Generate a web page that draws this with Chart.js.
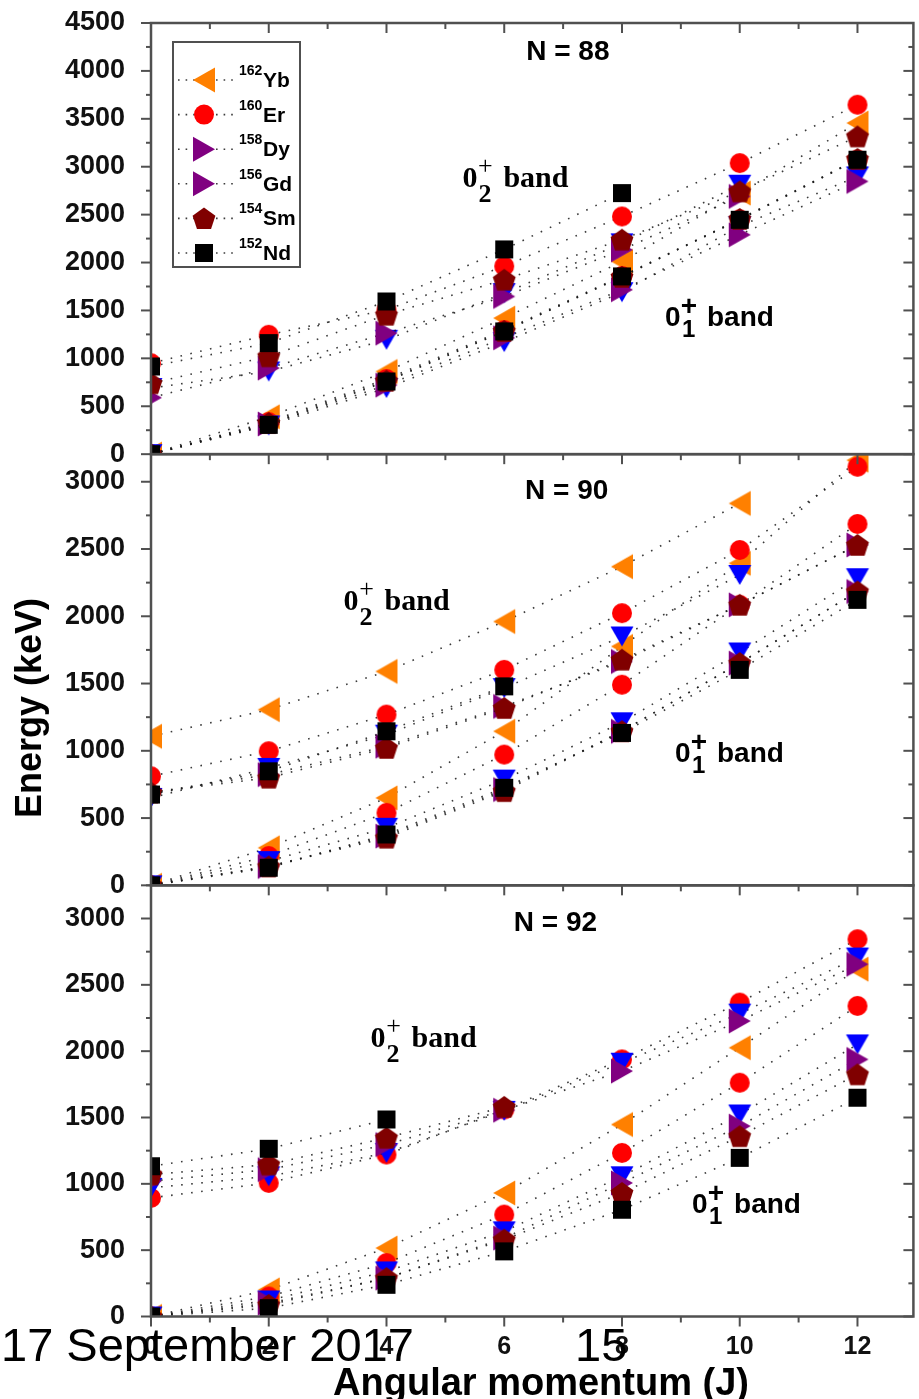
<!DOCTYPE html>
<html>
<head>
<meta charset="utf-8">
<title>Band energies of N = 88, 90, 92 isotones</title>
<script src="https://cdn.jsdelivr.net/npm/chart.js@4.4.1/dist/chart.umd.min.js"></script>
<style>
    html, body { margin: 0; padding: 0; background: #fff; overflow: hidden; }
    #bandChart { display: block; width: 926px; height: 1399px; }
</style>
</head>
<body>
<canvas id="bandChart" width="926" height="1399"></canvas>
<script>
const spins = [0, 2, 4, 6, 8, 10, 12];
const spinTicks = [0, 2, 4, 6, 8, 10, 12];
const massNumbers = ['162', '160', '158', '156', '154', '152'];
const elements = ['Yb', 'Er', 'Dy', 'Gd', 'Sm', 'Nd'];
const panelTitles = ['N = 88', 'N = 90', 'N = 92'];
const panelMax = [4500, 3205, 3250];
const energyTicksN88 = [0, 500, 1000, 1500, 2000, 2500, 3000, 3500, 4000, 4500];
const energyTicksN90 = [0, 500, 1000, 1500, 2000, 2500, 3000];
const energyTicksN92 = [0, 500, 1000, 1500, 2000, 2500, 3000];

// rows: Yb, Er, Dy, Gd, Sm, Nd ; columns: J = 0 ... 12 (keV)
const groundN88 = [
    [0, 390, 863, 1420, 2011, 2725, 3456],
    [0, 335, 785, 1295, 1860, 2450, 3075],
    [0, 300, 690, 1170, 1690, 2380, 2899],
    [0, 315, 720, 1215, 1716, 2290, 2847],
    [0, 325, 765, 1285, 1850, 2455, 3080],
    [0, 306, 759, 1281, 1855, 2446, 3073]
];
const excitedN88 = [
    [null, null, null, null, null, null, null],
    [950, 1246, 1507, 1962, 2481, 3038, 3647],
    [690, 863, 1194, 1681, 2200, 2812, null],
    [590, 898, 1263, 1646, 2133, 2690, null],
    [740, 1020, 1455, 1820, 2238, 2742, 3316],
    [915, 1159, 1594, 2137, 2725, null, null]
];
const groundN90 = [
    [0, 279, 650, 1145, 1776, 2394, 3160],
    [0, 218, 539, 972, 1491, 2085, 2686],
    [0, 180, 428, 786, 1212, 1731, 2283],
    [0, 140, 366, 712, 1145, 1652, 2184],
    [0, 140, 354, 700, 1145, 1652, 2184],
    [0, 131, 378, 725, 1133, 1602, 2122]
];
const excitedN90 = [
    [1108, 1306, 1590, 1961, 2369, 2839, null],
    [811, 997, 1269, 1602, 2023, 2493, 3111],
    [650, 873, 1120, 1466, 1850, 2307, null],
    [690, 823, 1034, 1330, 1664, 2085, 2530],
    [690, 800, 1021, 1318, 1677, 2085, 2530],
    [675, 848, 1145, 1479, null, null, null]
];
const groundN92 = [
    [0, 201, 516, 931, 1447, 2026, 2618],
    [0, 151, 403, 768, 1233, 1762, 2341],
    [0, 121, 340, 642, 1057, 1523, 2051],
    [0, 100, 289, 591, 1007, 1435, 1938],
    [0, 88, 289, 579, 931, 1359, 1825],
    [0, 63, 239, 491, 805, 1196, 1649]
];
const excitedN92 = [
    [null, null, null, null, null, null, null],
    [894, 1007, 1221, 1560, 1938, 2366, 2844],
    [970, 1057, 1233, 1550, 1913, 2283, 2706],
    [1020, 1107, 1296, 1555, 1850, 2227, 2655],
    [1070, 1145, 1347, 1580, null, null, null],
    [1133, 1264, 1485, null, null, null, null]
];

const SANS = '"Liberation Sans", Arial, sans-serif';
const SERIF = '"Liberation Serif", "Times New Roman", serif';

const panelAxes = ['y88', 'y90', 'y92'];
const panelTicks = [energyTicksN88, energyTicksN90, energyTicksN92];
const panelData = [
    [groundN88, excitedN88],
    [groundN90, excitedN90],
    [groundN92, excitedN92]
];

const markerShapes = ['left', 'circle', 'down', 'right', 'pentagon', 'square'];
const legendShapes = ['left', 'circle', 'right', 'right', 'pentagon', 'square'];
const markerColors = ['#ff8000', '#ff0000', '#0000ff', '#800080', '#800000', '#000000'];
const legendColors = ['#ff8000', '#ff0000', '#800080', '#800080', '#800000', '#000000'];
const drawOrder = [5, 4, 3, 2, 1, 0];

// label anchors in data units: [J, keV]
const titleAt = [[7.08, 4215], [7.06, 2944], [6.87, 2982]];
const excitedLabelAt = [[5.29, 2792], [3.27, 2046], [3.73, 2034]];
const groundLabelAt = [[8.73, 1338], [8.90, 919], [9.19, 778]];

function traceShape(ctx, shape, x, y) {
    switch (shape) {
        case 'circle':
            ctx.arc(x, y, 10, 0, Math.PI * 2);
            break;
        case 'square':
            ctx.rect(x - 9, y - 9, 18, 18);
            break;
        case 'left':
            ctx.moveTo(x - 11, y);
            ctx.lineTo(x + 11, y - 12.5);
            ctx.lineTo(x + 11, y + 12.5);
            ctx.closePath();
            break;
        case 'right':
            ctx.moveTo(x + 11, y);
            ctx.lineTo(x - 11, y - 12.5);
            ctx.lineTo(x - 11, y + 12.5);
            ctx.closePath();
            break;
        case 'down':
            ctx.moveTo(x - 11.5, y - 10);
            ctx.lineTo(x + 11.5, y - 10);
            ctx.lineTo(x, y + 10);
            ctx.closePath();
            break;
        case 'pentagon':
            for (let k = 0; k < 5; k++) {
                const a = -Math.PI / 2 + k * 2 * Math.PI / 5;
                const px = x + 12 * Math.cos(a);
                const py = y + 1 + 12 * Math.sin(a);
                if (k === 0) ctx.moveTo(px, py); else ctx.lineTo(px, py);
            }
            ctx.closePath();
            break;
    }
}

function makeMarker(shape, color) {
    const c = document.createElement('canvas');
    c.width = 28;
    c.height = 28;
    const ctx = c.getContext('2d');
    ctx.fillStyle = color;
    ctx.beginPath();
    traceShape(ctx, shape, 14, 14);
    ctx.fill();
    return c;
}

const markerImages = markerShapes.map((s, i) => makeMarker(s, markerColors[i]));

function buildDatasets() {
    const datasets = [];
    panelData.forEach((bands, p) => {
        bands.forEach(rows => {
            rows.forEach((values, i) => {
                const points = spins
                    .map((j, k) => ({ x: j, y: values[k] }))
                    .filter(pt => pt.y !== null);
                if (!points.length) return;
                datasets.push({
                    label: massNumbers[i] + elements[i],
                    data: points,
                    yAxisID: panelAxes[p],
                    order: drawOrder[i],
                    showLine: true,
                    fill: false,
                    borderColor: 'rgba(25, 25, 25, 0.85)',
                    borderWidth: 1.6,
                    borderDash: [1.6, 8.5],
                    pointStyle: markerImages[i],
                    pointRadius: 11,
                    pointHoverRadius: 11,
                    backgroundColor: markerColors[i]
                });
            });
        });
    });
    return datasets;
}

function noPadding(s) {
    s.paddingTop = 0;
    s.paddingBottom = 0;
    s.paddingLeft = 0;
    s.paddingRight = 0;
}

function yScale(p) {
    return {
        type: 'linear',
        position: 'left',
        stack: 'panels',
        stackWeight: 1,
        min: 0,
        max: panelMax[p],
        grid: { display: false },
        border: { display: false },
        ticks: {
            autoSkip: false,
            padding: 18,
            color: '#111',
            font: { family: SANS, weight: 'bold', size: 27 },
            callback: v => String(v)
        },
        afterBuildTicks: s => { s.ticks = panelTicks[p].map(v => ({ value: v })); },
        afterFit: s => { s.width = 151; noPadding(s); }
    };
}

function line(ctx, x1, y1, x2, y2) {
    ctx.beginPath();
    ctx.moveTo(x1, y1);
    ctx.lineTo(x2, y2);
    ctx.stroke();
}

function drawBandLabel(ctx, x, y, sub, serif) {
    ctx.textAlign = 'left';
    ctx.textBaseline = 'alphabetic';
    ctx.fillStyle = '#000';
    if (serif) {
        ctx.font = 'bold 30px ' + SERIF;
        ctx.fillText('0', x, y);
        ctx.fillText('band', x + 41, y);
        ctx.font = 'bold 26px ' + SERIF;
        ctx.fillText(sub, x + 16, y + 15);
        ctx.font = '26px ' + SERIF;
        ctx.textAlign = 'center';
        ctx.fillText('+', x + 23, y - 13);
    } else {
        ctx.font = 'bold 28px ' + SANS;
        ctx.fillText('0', x, y);
        ctx.fillText('band', x + 42, y);
        ctx.font = 'bold 24px ' + SANS;
        ctx.fillText(sub, x + 17, y + 11);
        ctx.font = 'bold 28px ' + SANS;
        ctx.textAlign = 'center';
        ctx.fillText('+', x + 24, y - 11);
    }
}

function drawLegend(ctx, left, top) {
    ctx.save();
    ctx.strokeStyle = '#505050';
    ctx.lineWidth = 2;
    ctx.strokeRect(left, top, 127, 225);
    for (let i = 0; i < elements.length; i++) {
        const cy = top + 38 + i * 34.6;
        ctx.strokeStyle = 'rgba(25, 25, 25, 0.85)';
        ctx.lineWidth = 1.6;
        ctx.setLineDash([1.6, 6]);
        line(ctx, left + 5, cy, left + 60, cy);
        ctx.setLineDash([]);
        ctx.fillStyle = legendColors[i];
        ctx.beginPath();
        traceShape(ctx, legendShapes[i], left + 31, cy);
        ctx.fill();
        ctx.fillStyle = '#000';
        ctx.textAlign = 'left';
        ctx.textBaseline = 'alphabetic';
        ctx.font = 'bold 14px ' + SANS;
        ctx.fillText(massNumbers[i], left + 66, cy - 5);
        ctx.font = 'bold 21px ' + SANS;
        ctx.fillText(elements[i], left + 90, cy + 7);
    }
    ctx.restore();
}

const decorPlugin = {
    id: 'decor',
    afterDraw(chart) {
        const ctx = chart.ctx;
        const area = chart.chartArea;
        const xs = chart.scales.x;
        ctx.save();
        ctx.strokeStyle = '#505050';
        panelAxes.forEach((id, p) => {
            const ys = chart.scales[id];
            ctx.lineWidth = 2.5;
            ctx.strokeRect(area.left, ys.top, area.right - area.left, ys.bottom - ys.top);
            ctx.lineWidth = 2;
            for (let v = 0; v <= ys.max; v += 250) {
                const y = ys.getPixelForValue(v);
                const len = v % 500 === 0 ? 10 : 5;
                line(ctx, area.left - len, y, area.left, y);
                line(ctx, area.right - len, y, area.right, y);
            }
            for (let j = 0; j <= xs.max; j++) {
                const x = xs.getPixelForValue(j);
                const len = j % 2 === 0 ? 10 : 6;
                line(ctx, x, ys.top, x, ys.top + len);
                if (p === panelAxes.length - 1) line(ctx, x, ys.bottom, x, ys.bottom + len);
            }

            ctx.fillStyle = '#000';
            ctx.textAlign = 'center';
            ctx.textBaseline = 'alphabetic';
            ctx.font = 'bold 28px ' + SANS;
            ctx.fillText(panelTitles[p], xs.getPixelForValue(titleAt[p][0]), ys.getPixelForValue(titleAt[p][1]) + 10);
            drawBandLabel(ctx, xs.getPixelForValue(excitedLabelAt[p][0]), ys.getPixelForValue(excitedLabelAt[p][1]), '2', true);
            drawBandLabel(ctx, xs.getPixelForValue(groundLabelAt[p][0]), ys.getPixelForValue(groundLabelAt[p][1]), '1', false);
        });

        drawLegend(ctx, area.left + 22, chart.scales.y88.top + 19);

        ctx.fillStyle = '#000';
        ctx.textAlign = 'center';
        ctx.textBaseline = 'alphabetic';
        ctx.font = 'bold 38px ' + SANS;
        ctx.fillText('Angular momentum (J)', 541, 1395);

        ctx.save();
        ctx.translate(41, 708);
        ctx.rotate(-Math.PI / 2);
        ctx.font = 'bold 36px ' + SANS;
        ctx.fillText('Energy (keV)', 0, 0);
        ctx.restore();

        ctx.textAlign = 'left';
        ctx.font = '47px ' + SANS;
        ctx.fillText('17 September 2017', 1, 1361);
        ctx.fillText('15', 575, 1361);
        ctx.restore();
    }
};

document.addEventListener('DOMContentLoaded', function () {
    const ctx = document.getElementById('bandChart').getContext('2d');
    new Chart(ctx, {
        type: 'scatter',
        data: { datasets: buildDatasets() },
        options: {
            responsive: false,
            maintainAspectRatio: false,
            animation: false,
            devicePixelRatio: 1,
            // canvas is a few px wider than the window so the right frame edge falls just outside, as in the source
            layout: { padding: { top: 23, right: 1, bottom: 0, left: 0 } },
            plugins: {
                legend: { display: false },
                tooltip: { enabled: false }
            },
            scales: {
                x: {
                    type: 'linear',
                    position: 'bottom',
                    min: 0,
                    max: 12.95,
                    grid: { display: false },
                    border: { display: false },
                    ticks: {
                        autoSkip: false,
                        padding: 8,
                        color: '#111',
                        font: { family: SANS, weight: 'bold', size: 25 },
                        callback: v => String(v)
                    },
                    afterBuildTicks: s => { s.ticks = spinTicks.map(v => ({ value: v })); },
                    afterFit: s => { s.height = 82.5; noPadding(s); }
                },
                y92: yScale(2),
                y90: yScale(1),
                y88: yScale(0)
            }
        },
        plugins: [decorPlugin]
    });
});
</script>
</body>
</html>
